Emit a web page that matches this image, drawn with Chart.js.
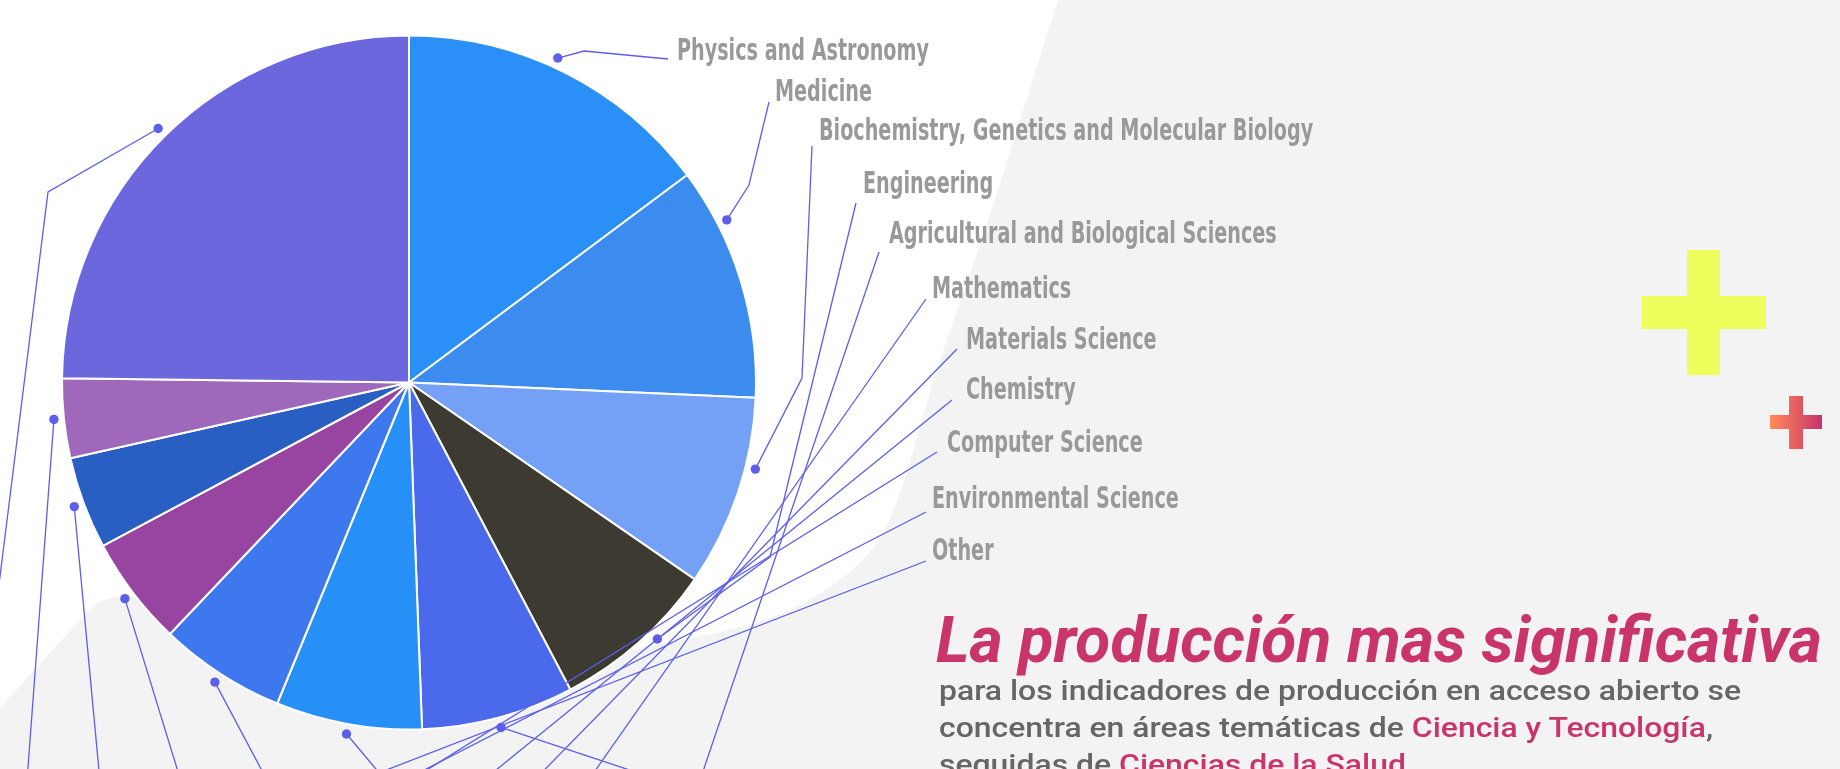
<!DOCTYPE html>
<html>
<head>
<meta charset="utf-8">
<script src="https://cdn.jsdelivr.net/npm/chart.js@4.4.1/dist/chart.umd.min.js"></script>
<style>
    html, body { margin: 0; padding: 0; background: #f3f3f3; overflow: hidden; }
    #wrap { position: relative; width: 1840px; height: 769px; }
    #wrap canvas { position: absolute; left: 0; top: 0; width: 1840px; height: 769px; }
    .plus { position: absolute; }
    #plusBig {
        left: 1642px; top: 250px; width: 124px; height: 125px; background: #edff5c;
        clip-path: polygon(45px 0, 78px 0, 78px 46px, 124px 46px, 124px 79px, 78px 79px, 78px 125px, 45px 125px, 45px 79px, 0 79px, 0 46px, 45px 46px);
    }
    #plusSmall {
        left: 1770px; top: 396px; width: 52px; height: 53px;
        background: linear-gradient(90deg, #ff8b5a, #c8336b);
        clip-path: polygon(19px 0, 33px 0, 33px 19px, 52px 19px, 52px 33px, 33px 33px, 33px 53px, 19px 53px, 19px 33px, 0 33px, 0 19px, 19px 19px);
    }
    #headline {
        position: absolute; left: 936px; top: 609px; white-space: nowrap;
        font: italic 700 64px/64px Roboto, "Noto Sans", sans-serif; color: #c9356b;
        transform-origin: 0 0;
    }
    #para {
        position: absolute; left: 939px; top: 672px; white-space: nowrap;
        font: 500 28px/37px Roboto, "Noto Sans", sans-serif; color: #666;
        transform-origin: 0 0;
    }
    #para .pink { color: #c9356b; }
</style>
</head>
<body>
<div id="wrap">
    <canvas id="areasChart" width="1840" height="769"></canvas>
    <div class="plus" id="plusBig"></div>
    <div class="plus" id="plusSmall"></div>
    <div id="headline">La producción mas significativa</div>
    <div id="para"><span id="line1">para los indicadores de producción en acceso abierto se</span><br>concentra en áreas temáticas de <span class="pink">Ciencia y Tecnología</span>,<br>seguidas de <span class="pink">Ciencias de la Salud</span>.</div>
</div>
<script>
// subject areas, clockwise from 12 o'clock
const areas = ['Physics and Astronomy', 'Medicine', 'Biochemistry, Genetics and Molecular Biology',
    'Engineering', 'Agricultural and Biological Sciences', 'Mathematics', 'Materials Science',
    'Chemistry', 'Computer Science', 'Environmental Science', 'Other'];
// share of open access output, %
const shares = [14.8, 10.9, 8.9, 7.7, 7.1, 6.8, 5.9, 5.1, 4.3, 3.7, 24.8];
const sliceColors = ['#2a8ff7', '#3c8cf0', '#74a0f5', '#3d3a32', '#4b69eb', '#2790f7',
    '#3e78ef', '#9745a0', '#295ec3', '#a068bb', '#6d67de'];

// label placement + connector route (label -> bends -> dot), page px
const labelPos = [
    {x: 677, y: 60, start: [668, 59], bends: [[584, 51]], nudge: -2},
    {x: 775, y: 101, start: [769, 102], bends: [[749, 185]], nudge: -10},
    {x: 819, y: 140, start: [812, 146], bends: [[802, 378]], nudge: -4.5},
    {x: 863, y: 193, start: [856, 203], bends: [[770, 557]], nudge: -2.5},
    {x: 889, y: 243, start: [879, 252], bends: [[696, 792]]},
    {x: 932, y: 298, start: [926, 299], bends: [[496, 912]]},
    {x: 966, y: 349, start: [957, 349], bends: [[361, 957]]},
    {x: 966, y: 399, start: [952, 400], bends: [[241, 977]]},
    {x: 947, y: 452, start: [937, 452], bends: [[117, 963]]},
    {x: 932, y: 508, start: [926, 512], bends: [[12, 982]]},
    {x: 932, y: 560, start: [926, 561], bends: [[-45, 937], [48, 192]]}
];

// white backdrop blob behind the pie
const blob = [[1058, 0], [1021, 117], [990, 215], [961, 300], [933, 380], [908, 470], [887, 530],
    [860, 565], [820, 595], [770, 620], [700, 637], [640, 648], [400, 690], [121, 578], [65, 636], [0, 708]];

const lineColor = '#5b5fe9';

const backdrop = {
    id: 'backdrop',
    beforeDraw(chart) {
        const ctx = chart.ctx;
        ctx.save();
        ctx.fillStyle = '#ffffff';
        ctx.beginPath();
        ctx.moveTo(0, 0);
        ctx.lineTo(blob[0][0], blob[0][1]);
        for (let i = 1; i < blob.length - 1; i++) {
            const mx = (blob[i][0] + blob[i + 1][0]) / 2;
            const my = (blob[i][1] + blob[i + 1][1]) / 2;
            ctx.quadraticCurveTo(blob[i][0], blob[i][1], mx, my);
        }
        ctx.lineTo(blob[blob.length - 1][0], blob[blob.length - 1][1]);
        ctx.closePath();
        ctx.fill();
        ctx.restore();
    }
};

const connectors = {
    id: 'connectors',
    afterDatasetsDraw(chart) {
        const ctx = chart.ctx;
        const arcs = chart.getDatasetMeta(0).data;
        ctx.save();
        ctx.font = 'bold 31px "Liberation Sans Narrow", "DejaVu Sans Condensed", sans-serif';
        const sx = 252 / ctx.measureText(areas[0]).width;
        arcs.forEach((arc, i) => {
            const p = arc.getProps(['x', 'y', 'startAngle', 'endAngle', 'outerRadius'], true);
            const lay = labelPos[i];
            const a = (p.startAngle + p.endAngle) / 2 + (lay.nudge || 0) * Math.PI / 180;
            const r = p.outerRadius + 10;
            const dotX = p.x + Math.cos(a) * r;
            const dotY = p.y + Math.sin(a) * r;

            ctx.strokeStyle = lineColor;
            ctx.lineWidth = 1.3;
            ctx.beginPath();
            ctx.moveTo(lay.start[0], lay.start[1]);
            lay.bends.forEach(b => ctx.lineTo(b[0], b[1]));
            ctx.lineTo(dotX, dotY);
            ctx.stroke();

            ctx.fillStyle = lineColor;
            ctx.beginPath();
            ctx.arc(dotX, dotY, 4.7, 0, Math.PI * 2);
            ctx.fill();

            ctx.save();
            ctx.fillStyle = '#999999';
            ctx.textBaseline = 'alphabetic';
            ctx.translate(lay.x, lay.y);
            ctx.scale(sx, 1);
            ctx.fillText(areas[i], 0, 0);
            ctx.restore();
        });
        ctx.restore();
    }
};

new Chart(document.getElementById('areasChart'), {
    type: 'pie',
    data: {
        labels: areas,
        datasets: [{
            data: shares,
            backgroundColor: sliceColors,
            borderColor: '#ffffff',
            borderWidth: 2,
            hoverOffset: 0
        }]
    },
    options: {
        responsive: false,
        animation: false,
        events: [],
        layout: {
            padding: {left: 61, right: 1083, top: 34.5, bottom: 38.5}
        },
        plugins: {
            legend: {display: false},
            tooltip: {enabled: false}
        }
    },
    plugins: [backdrop, connectors]
});

// squeeze text blocks to the widths of the original layout
const head = document.getElementById('headline');
head.style.transform = 'scaleX(' + (886 / head.getBoundingClientRect().width) + ')';
const para = document.getElementById('para');
const l1 = document.getElementById('line1').getBoundingClientRect().width;
para.style.transform = 'scaleX(' + (802 / l1) + ')';
</script>
</body>
</html>
